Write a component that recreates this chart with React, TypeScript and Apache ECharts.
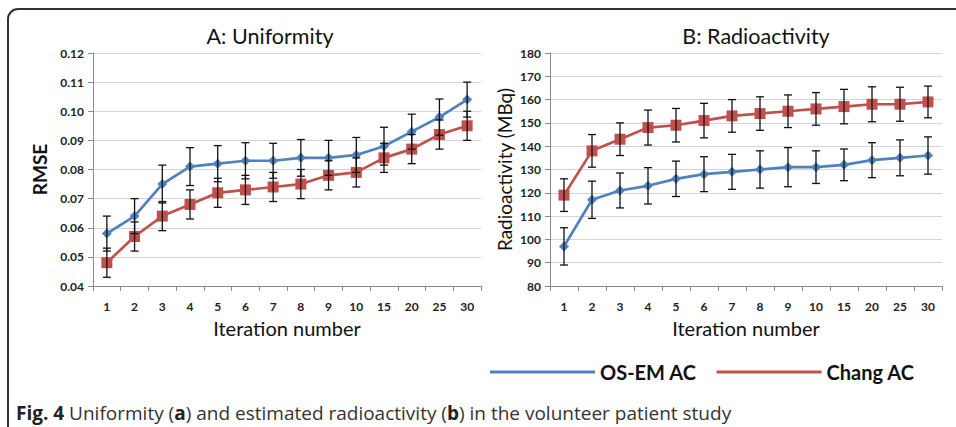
import React, { useEffect, useRef } from "react";
import * as echarts from "echarts";

const iterations = ["1", "2", "3", "4", "5", "6", "7", "8", "9", "10", "15", "20", "25", "30"];

const uniformityOSEM = [0.058, 0.064, 0.075, 0.081, 0.082, 0.083, 0.083, 0.084, 0.084, 0.085, 0.088, 0.093, 0.098, 0.104];
const uniformityOSEMErr = [0.006, 0.006, 0.0065, 0.0065, 0.0062, 0.0062, 0.006, 0.0063, 0.006, 0.006, 0.0065, 0.006, 0.0062, 0.006];
const uniformityChang = [0.048, 0.057, 0.064, 0.068, 0.072, 0.073, 0.074, 0.075, 0.078, 0.079, 0.084, 0.087, 0.092, 0.095];
const uniformityChangErr = [0.005, 0.005, 0.005, 0.005, 0.005, 0.005, 0.005, 0.005, 0.005, 0.005, 0.005, 0.005, 0.005, 0.005];

const radioOSEM = [97, 117, 121, 123, 126, 128, 129, 130, 131, 131, 132, 134, 135, 136];
const radioOSEMErr = [8, 8, 7.5, 7.8, 7.6, 7.5, 7.5, 8, 8.4, 7, 6.8, 7.5, 7.7, 8];
const radioChang = [119, 138, 143, 148, 149, 151, 153, 154, 155, 156, 157, 158, 158, 159];
const radioChangErr = [7, 7, 7, 7.5, 7.2, 7.4, 7, 7.2, 7, 7, 7.4, 7.5, 7.3, 6.8];

const legendNames = ["OS-EM AC", "Chang AC"];
const BLUE = "#4F81BD";
const RED = "#C0504D";
const FONT = "Lato";

function errData(vals: number[], errs: number[]) {
  return vals.map((v, i) => [i, v - errs[i], v + errs[i]]);
}

function errorSeries(name: string, idx: number, vals: number[], errs: number[]) {
  return {
    type: "custom",
    name,
    xAxisIndex: idx,
    yAxisIndex: idx,
    z: 3,
    encode: { x: 0, y: [1, 2] },
    data: errData(vals, errs),
    renderItem: (params: any, api: any) => {
      const x = api.value(0);
      const pHi = api.coord([x, api.value(2)]);
      const pLo = api.coord([x, api.value(1)]);
      const hw = 4;
      const st = { stroke: "#111", lineWidth: 1.3 };
      return {
        type: "group",
        children: [
          { type: "line", shape: { x1: pHi[0], y1: pHi[1], x2: pLo[0], y2: pLo[1] }, style: st },
          { type: "line", shape: { x1: pHi[0] - hw, y1: pHi[1], x2: pHi[0] + hw, y2: pHi[1] }, style: st },
          { type: "line", shape: { x1: pLo[0] - hw, y1: pLo[1], x2: pLo[0] + hw, y2: pLo[1] }, style: st },
        ],
      };
    },
  };
}

function lineSeries(name: string, idx: number, vals: number[], color: string, symbol: string, size: number) {
  return {
    type: "line",
    name,
    xAxisIndex: idx,
    yAxisIndex: idx,
    data: vals,
    color,
    symbol,
    symbolSize: size,
    showSymbol: true,
    lineStyle: { width: 2.7, color },
    itemStyle: { color },
    z: 2,
  };
}

function xAxis(idx: number) {
  return {
    type: "category",
    gridIndex: idx,
    data: iterations,
    boundaryGap: true,
    axisLine: { show: true, lineStyle: { color: "#8a8a8a", width: 1 } },
    axisTick: { show: true, length: 5, lineStyle: { color: "#8a8a8a" } },
    axisLabel: { interval: 0, fontSize: 12, fontWeight: "bold", color: "#222", fontFamily: FONT, margin: 14 },
    name: "Iteration number",
    nameLocation: "middle",
    nameGap: 32,
    nameTextStyle: { fontSize: 20, fontFamily: FONT, color: "#111" },
  };
}

export default function App() {
  const ref = useRef<HTMLDivElement>(null);
  useEffect(() => {
    if (!ref.current) return;
    const chart = echarts.init(ref.current, undefined, { renderer: "svg" });
    const option: any = {
      animation: false,
      backgroundColor: "#fff",
      grid: [
        { left: 93, top: 53, width: 388, height: 233 },
        { left: 550, top: 53, width: 392, height: 233 },
      ],
      xAxis: [xAxis(0), xAxis(1)],
      yAxis: [
        {
          type: "value",
          gridIndex: 0,
          min: 0.04,
          max: 0.12,
          interval: 0.01,
          axisLine: { show: true, lineStyle: { color: "#8a8a8a" } },
          axisTick: { show: true, length: 5, lineStyle: { color: "#8a8a8a" } },
          splitLine: { lineStyle: { color: "#d4d4d4", width: 1 } },
          axisLabel: {
            formatter: (v: number) => v.toFixed(2),
            fontSize: 12,
            fontWeight: "bold",
            color: "#222",
            fontFamily: FONT,
            margin: 9,
          },
          name: "RMSE",
          nameLocation: "middle",
          nameGap: 44,
          nameTextStyle: { fontSize: 19, fontWeight: "bold", fontFamily: FONT, color: "#111" },
        },
        {
          type: "value",
          gridIndex: 1,
          min: 80,
          max: 180,
          interval: 10,
          axisLine: { show: true, lineStyle: { color: "#8a8a8a" } },
          axisTick: { show: true, length: 5, lineStyle: { color: "#8a8a8a" } },
          splitLine: { lineStyle: { color: "#d4d4d4", width: 1 } },
          axisLabel: { fontSize: 12, fontWeight: "bold", color: "#222", fontFamily: FONT, margin: 9 },
          name: "Radioactivity (MBq)",
          nameLocation: "middle",
          nameGap: 36,
          nameTextStyle: { fontSize: 19, fontFamily: FONT, color: "#111" },
        },
      ],
      legend: {
        data: legendNames.map((n) => ({ name: n, icon: "rect" })),
        left: 490,
        top: 362,
        padding: 0,
        itemWidth: 105,
        itemHeight: 3,
        itemGap: 20,
        textStyle: { fontSize: 20, fontWeight: "bold", fontFamily: FONT, color: "#111" },
      },
      series: [
        lineSeries(legendNames[1], 0, uniformityChang, RED, "rect", 11),
        lineSeries(legendNames[0], 0, uniformityOSEM, BLUE, "diamond", 10),
        errorSeries("errA1", 0, uniformityOSEM, uniformityOSEMErr),
        errorSeries("errA2", 0, uniformityChang, uniformityChangErr),
        lineSeries(legendNames[1], 1, radioChang, RED, "rect", 11),
        lineSeries(legendNames[0], 1, radioOSEM, BLUE, "diamond", 10),
        errorSeries("errB1", 1, radioOSEM, radioOSEMErr),
        errorSeries("errB2", 1, radioChang, radioChangErr),
      ],
      graphic: [
        {
          type: "rect",
          shape: { x: 8, y: 9, width: 1000, height: 500, r: 10 },
          style: { fill: "none", stroke: "#333", lineWidth: 2 },
          silent: true,
        },
        {
          type: "text",
          x: 270,
          y: 36,
          style: { text: "A: Uniformity", font: `21.5px ${FONT}`, fill: "#111", textAlign: "center", textVerticalAlign: "middle" },
        },
        {
          type: "text",
          x: 756,
          y: 36,
          style: { text: "B: Radioactivity", font: `21.5px ${FONT}`, fill: "#111", textAlign: "center", textVerticalAlign: "middle" },
        },
        {
          type: "text",
          x: 16,
          y: 413,
          style: {
            text: "{b|Fig. 4} Uniformity ({b|a}) and estimated radioactivity ({b|b}) in the volunteer patient study",
            font: `19px "Open Sans"`,
            fill: "#333",
            textVerticalAlign: "middle",
            rich: {
              b: { fontWeight: "bold", fontFamily: "Open Sans", fontSize: 19, fill: "#222" },
            },
          },
        },
      ],
    };
    chart.setOption(option);
    return () => chart.dispose();
  }, []);
  return (
    <div
      ref={ref}
      style={{ position: "absolute", left: 0, top: 0, width: 956, height: 427 }}
    />
  );
}
